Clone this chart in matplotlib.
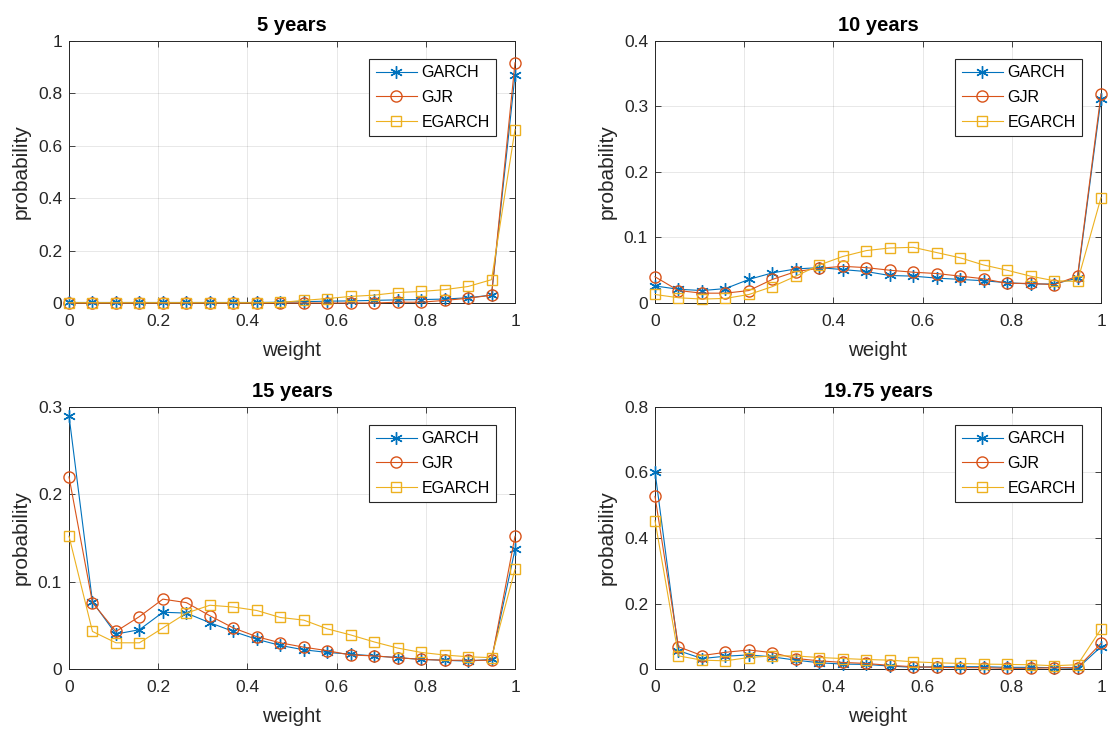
"""Probability of weight for GARCH / GJR / EGARCH at four horizons."""

import matplotlib

matplotlib.use("Agg")
import matplotlib.pyplot as plt
import numpy as np
from matplotlib.ticker import FuncFormatter

plt.rcParams["font.family"] = ["Liberation Sans", "DejaVu Sans"]

weight = np.linspace(0, 1, 20)

titles = ["5 years", "10 years", "15 years", "19.75 years"]
ylims = [1.0, 0.4, 0.3, 0.8]
ysteps = [0.2, 0.1, 0.1, 0.2]

garch_5 = [0.002, 0.002, 0.002, 0.002, 0.002, 0.002, 0.002, 0.002, 0.002, 0.003,
           0.005, 0.007, 0.008, 0.010, 0.012, 0.013, 0.015, 0.020, 0.030, 0.870]
gjr_5 = [0.0, 0.0, 0.0, 0.0, 0.0, 0.0, 0.0, 0.0, 0.0, 0.0,
         0.0, 0.0, 0.0, 0.0, 0.003, 0.003, 0.010, 0.018, 0.030, 0.917]
egarch_5 = [0.001, 0.001, 0.001, 0.001, 0.001, 0.001, 0.001, 0.001, 0.001, 0.002,
            0.010, 0.017, 0.025, 0.030, 0.040, 0.044, 0.051, 0.063, 0.089, 0.662]

garch_10 = [0.026, 0.021, 0.019, 0.022, 0.036, 0.046, 0.052, 0.054, 0.051, 0.048,
            0.042, 0.041, 0.038, 0.036, 0.034, 0.031, 0.029, 0.029, 0.038, 0.312]
gjr_10 = [0.040, 0.019, 0.015, 0.015, 0.019, 0.036, 0.048, 0.053, 0.056, 0.054,
          0.050, 0.047, 0.045, 0.041, 0.037, 0.030, 0.030, 0.028, 0.041, 0.319]
egarch_10 = [0.013, 0.008, 0.006, 0.007, 0.013, 0.025, 0.041, 0.058, 0.071, 0.080,
             0.084, 0.085, 0.077, 0.069, 0.058, 0.050, 0.041, 0.034, 0.033, 0.161]

garch_15 = [0.290, 0.077, 0.040, 0.045, 0.065, 0.064, 0.053, 0.043, 0.034, 0.027,
            0.022, 0.019, 0.017, 0.015, 0.013, 0.011, 0.010, 0.009, 0.011, 0.137]
gjr_15 = [0.220, 0.076, 0.043, 0.060, 0.080, 0.076, 0.061, 0.047, 0.037, 0.030,
          0.025, 0.021, 0.016, 0.015, 0.013, 0.011, 0.010, 0.010, 0.010, 0.152]
egarch_15 = [0.152, 0.043, 0.030, 0.030, 0.047, 0.064, 0.073, 0.071, 0.067, 0.059,
             0.056, 0.046, 0.039, 0.031, 0.024, 0.019, 0.016, 0.014, 0.013, 0.114]

garch_19 = [0.603, 0.056, 0.032, 0.039, 0.043, 0.037, 0.027, 0.019, 0.015, 0.014,
            0.009, 0.005, 0.007, 0.007, 0.007, 0.005, 0.005, 0.004, 0.002, 0.068]
gjr_19 = [0.527, 0.068, 0.041, 0.051, 0.058, 0.050, 0.032, 0.025, 0.020, 0.017,
          0.011, 0.007, 0.005, 0.004, 0.004, 0.002, 0.002, 0.004, 0.004, 0.078]
egarch_19 = [0.453, 0.040, 0.027, 0.025, 0.035, 0.040, 0.040, 0.035, 0.032, 0.029,
             0.027, 0.022, 0.019, 0.017, 0.015, 0.014, 0.013, 0.010, 0.013, 0.122]

panels = [
    (garch_5, gjr_5, egarch_5),
    (garch_10, gjr_10, egarch_10),
    (garch_15, gjr_15, egarch_15),
    (garch_19, gjr_19, egarch_19),
]

labels = ["GARCH", "GJR", "EGARCH"]
colors = ["#0072BD", "#D95319", "#EDB120"]
markers = [(6, 2, 0), "o", "s"]  # MATLAB-like asterisk, circle, square
msizes = [9, 8, 7]

# axes boxes in pixels (left, top, right, bottom) of a 1108x731 figure
W, H = 1108, 731
boxes = [(69, 41, 515, 303), (655, 41, 1101, 303),
         (69, 407, 515, 669), (655, 407, 1101, 669)]

fmt = FuncFormatter(lambda v, _: f"{v:g}")
txt = "#262626"

fig = plt.figure(figsize=(W / 100, H / 100), dpi=100)
for i, (box, series) in enumerate(zip(boxes, panels)):
    l, t, r, b = box
    ax = fig.add_axes([l / W, 1 - b / H, (r - l) / W, (b - t) / H])
    for vals, lab, c, m, ms in zip(series, labels, colors, markers, msizes):
        ax.plot(weight, vals, color=c, marker=m, markersize=ms, markerfacecolor="none",
                markeredgewidth=1.0, linewidth=0.8, label=lab, clip_on=False, zorder=3)
    ax.set_xlim(0, 1)
    ax.set_ylim(0, ylims[i])
    ax.set_xticks(np.arange(0, 1.01, 0.2))
    ax.set_yticks(np.arange(0, ylims[i] + 1e-9, ysteps[i]))
    ax.xaxis.set_major_formatter(fmt)
    ax.yaxis.set_major_formatter(fmt)
    ax.tick_params(direction="in", top=True, right=True, labelsize=12.5,
                   colors=txt, length=4, width=0.6)
    ax.tick_params(axis="x", pad=8)
    ax.tick_params(axis="y", pad=5)
    ax.grid(True, color="#000000", alpha=0.11, linewidth=0.6)
    for s in ax.spines.values():
        s.set_linewidth(0.7)
        s.set_color(txt)
    ax.set_xlabel("weight", fontsize=14.7, color=txt, labelpad=8.5)
    ax.set_ylabel("probability", fontsize=15, color=txt, labelpad=5)
    ax.set_title(titles[i], fontsize=14.5, fontweight="bold", pad=7)
    # legend: right edge 19 px inside the axes, top 18 px below it
    leg = ax.legend(loc="upper right",
                    bbox_to_anchor=(1 - 19 / (r - l), 1 - 18 / (b - t)),
                    borderaxespad=0, fontsize=11.5, fancybox=False, framealpha=1,
                    edgecolor=txt, handlelength=2.55, handletextpad=0.3,
                    borderpad=0.4, labelspacing=0.6)
    leg.get_frame().set_linewidth(0.8)

fig.savefig("out.png", dpi=100)
plt.close(fig)
